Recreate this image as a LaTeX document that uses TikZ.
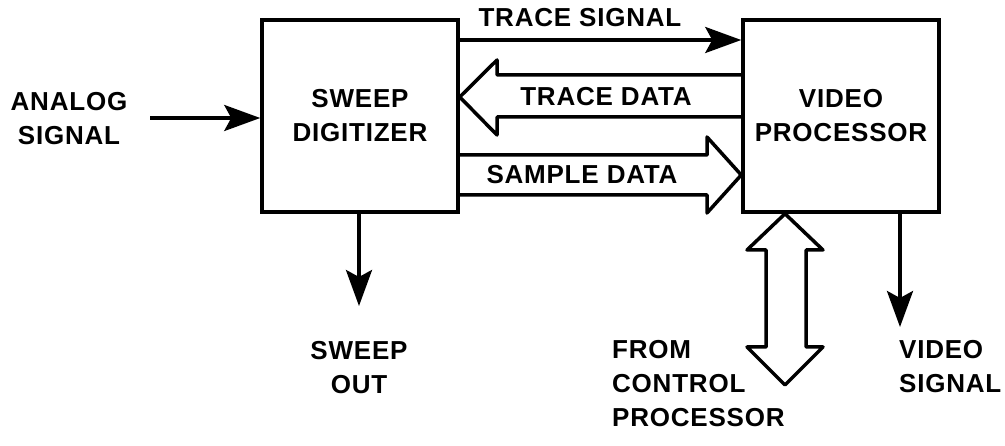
\documentclass[tikz,border=0pt]{standalone}
\usepackage{fontspec}
\setmainfont[LetterSpace=3]{Liberation Sans}
\usetikzlibrary{positioning, arrows.meta}

\newcommand{\lblfont}{\fontsize{26}{34}\selectfont\bfseries}

\begin{document}
\begin{tikzpicture}[x=1pt, y=-1pt,
  block/.style = {draw, line width=3.5pt, minimum width=196pt, minimum height=192pt,
    align=center, font=\lblfont},
  txt/.style = {align=center, inner sep=0pt, font=\lblfont},
  sig/.style = {-{Stealth[length=36pt, width=26pt, inset=7pt]}, line width=3.5pt},
  bus/.style = {line width=3.5pt, line join=round},
  node distance = 20pt]

  \useasboundingbox (0,0) rectangle (1005,446);

  \node[block] (sd) at (360,116) {SWEEP\\DIGITIZER};
  \node[block] (vp) at (841,116) {VIDEO\\PROCESSOR};

  % thin signal lines
  \coordinate (ain) at (150,118);
  \coordinate (sout) at (359,306);
  \coordinate (vout) at (900,327);
  \draw[sig] (sd.east |- 0,40) -- (vp.west |- 0,40);
  \draw[sig] (ain) -- (sd.west |- ain);
  \draw[sig] (sd.south -| sout) -- (sout);
  \draw[sig] (vp.south -| vout) -- (vout);

  % hollow data arrows
  \draw[bus] (vp.west |- 0,75) -- (497,75) -- (497,60) -- (sd.east |- 0,97)
    -- (497,135) -- (497,117) -- (vp.west |- 0,117);
  \draw[bus] (sd.east |- 0,155) -- (707,155) -- (707,137) -- (vp.west |- 0,175)
    -- (707,213) -- (707,195) -- (sd.east |- 0,195);
  \draw[bus] (vp.south -| 785,0) -- (823,250) -- (806,250) -- (806,347) -- (823,347)
    -- (785,385) -- (747,347) -- (766,347) -- (766,250) -- (747,250) -- cycle;

  % labels
  \node[txt] (tsig) at (580,18) {TRACE SIGNAL};
  \node[txt] (tdata) at (606,97) {TRACE DATA};
  \node[txt] (sdata) at (582,175) {SAMPLE DATA};
  \node[txt] (analog) at (69,119) {ANALOG\\SIGNAL};
  \node[txt, below = 35pt of sout] (sweepout) {SWEEP\\OUT};
  \node[txt, align=left, anchor=north west] (ctrl) at (612,340) {FROM\\CONTROL\\PROCESSOR};
  \node[txt, align=left, anchor=north west] (video) at (899,340) {VIDEO\\SIGNAL};
\end{tikzpicture}
\end{document}
